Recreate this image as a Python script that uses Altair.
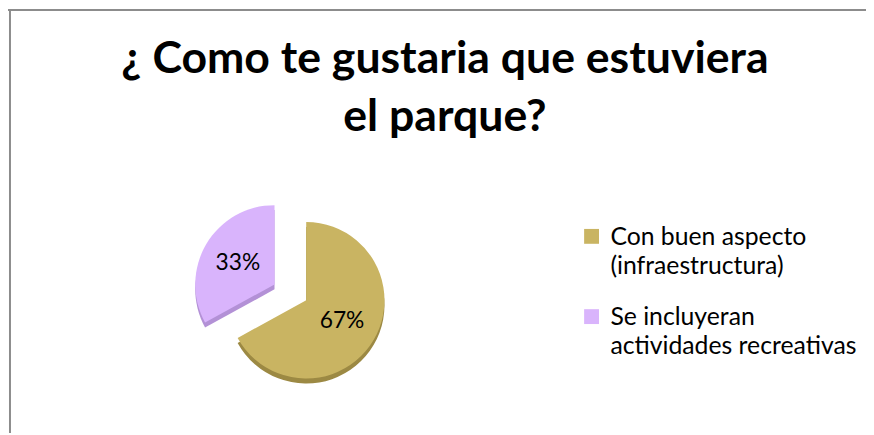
import altair as alt
import pandas as pd

categories = ["Con buen aspecto\n(infraestructura)", "Se incluyeran\nactividades recreativas"]
values = [67, 33]
colors = ["#C9B462", "#D9B4FC"]
side_colors = ["#9C8943", "#B391D6"]
title_lines = ["¿ Como te gustaria que estuviera", "el parque?"]

total = sum(values)
starts, ends = [], []
acc = 0
for v in values:
    starts.append(acc)
    acc += v
    ends.append(acc)

df = pd.DataFrame({
    "cat": categories,
    "value": values,
    "start": starts,
    "end": ends,
    "mid": [(s + e) / 2 for s, e in zip(starts, ends)],
    "pct": [f"{round(v * 100 / total)}%" for v in values],
})

W, H = 866, 427
FONT = "Lato"

theta_scale = alt.Scale(domain=[0, total], range=[0, 6.283185307])
color_scale = alt.Scale(domain=categories, range=colors)
side_scale = alt.Scale(domain=categories, range=side_colors)
legend_y = alt.Y(
    "cat:N",
    scale=alt.Scale(type="point", domain=categories, range=[228.5, 309.5], padding=0),
    axis=None,
)

# per-slice exploded centers (pixel layout), radius, label radius
centers = {categories[0]: (301, 293, 79, 42), categories[1]: (269, 277, 80, 43)}

base = alt.Chart(df)
layers = []
# 3D depth
for cat, (cx, cy, r, lr) in centers.items():
    layers.append(
        base.transform_filter(alt.datum.cat == cat).mark_arc(yOffset=5).encode(
            theta=alt.Theta("start:Q", scale=theta_scale),
            theta2="end:Q",
            color=alt.Color("cat:N", scale=side_scale, legend=None),
            x=alt.value(cx), y=alt.value(cy), radius=alt.value(r),
        )
    )
for cat, (cx, cy, r, lr) in centers.items():
    layers.append(
        base.transform_filter(alt.datum.cat == cat).mark_arc().encode(
            theta=alt.Theta("start:Q", scale=theta_scale),
            theta2="end:Q",
            color=alt.Color("cat:N", scale=color_scale, legend=None),
            x=alt.value(cx), y=alt.value(cy), radius=alt.value(r),
        )
    )
    layers.append(
        base.transform_filter(alt.datum.cat == cat).mark_text(
            font=FONT, fontSize=23, color="#000000"
        ).encode(
            theta=alt.Theta("mid:Q", scale=theta_scale),
            text="pct:N",
            x=alt.value(cx), y=alt.value(cy), radius=alt.value(lr),
        )
    )

# legend (drawn as marks)
legend_sym = base.mark_square(size=225, opacity=1).encode(
    x=alt.value(589),
    y=legend_y,
    color=alt.Color("cat:N", scale=color_scale, legend=None),
)
legend_txt = base.transform_calculate(
    lines="split(datum.cat, '\\n')"
).mark_text(
    font=FONT, fontSize=25, color="#000000", align="left",
    baseline="alphabetic", lineHeight=29, dy=8.5,
).encode(
    x=alt.value(608),
    y=legend_y,
    text=alt.Text("lines:N"),
)

title = alt.Chart(pd.DataFrame({"t": [0]})).mark_text(
    font=FONT, fontSize=45, fontWeight="bold", color="#000000",
    lineHeight=58, baseline="alphabetic", align="center",
).encode(x=alt.value(441), y=alt.value(64), text=alt.value(title_lines))

border_top = alt.Chart(pd.DataFrame({"t": [0]})).mark_rule(color="#8C8C8C", strokeWidth=2).encode(
    x=alt.value(0), x2=alt.value(W), y=alt.value(0)
)
border_left = alt.Chart(pd.DataFrame({"t": [0]})).mark_rule(color="#8C8C8C", strokeWidth=2).encode(
    x=alt.value(2), y=alt.value(0), y2=alt.value(H)
)

chart = alt.layer(*layers, legend_sym, legend_txt, title, border_top, border_left).resolve_scale(
    color="independent"
).properties(
    width=W, height=H, padding=0, autosize="none", background="white"
).configure_view(stroke=None)

chart.save("out.html", embed_options={"renderer": "svg", "actions": False})
